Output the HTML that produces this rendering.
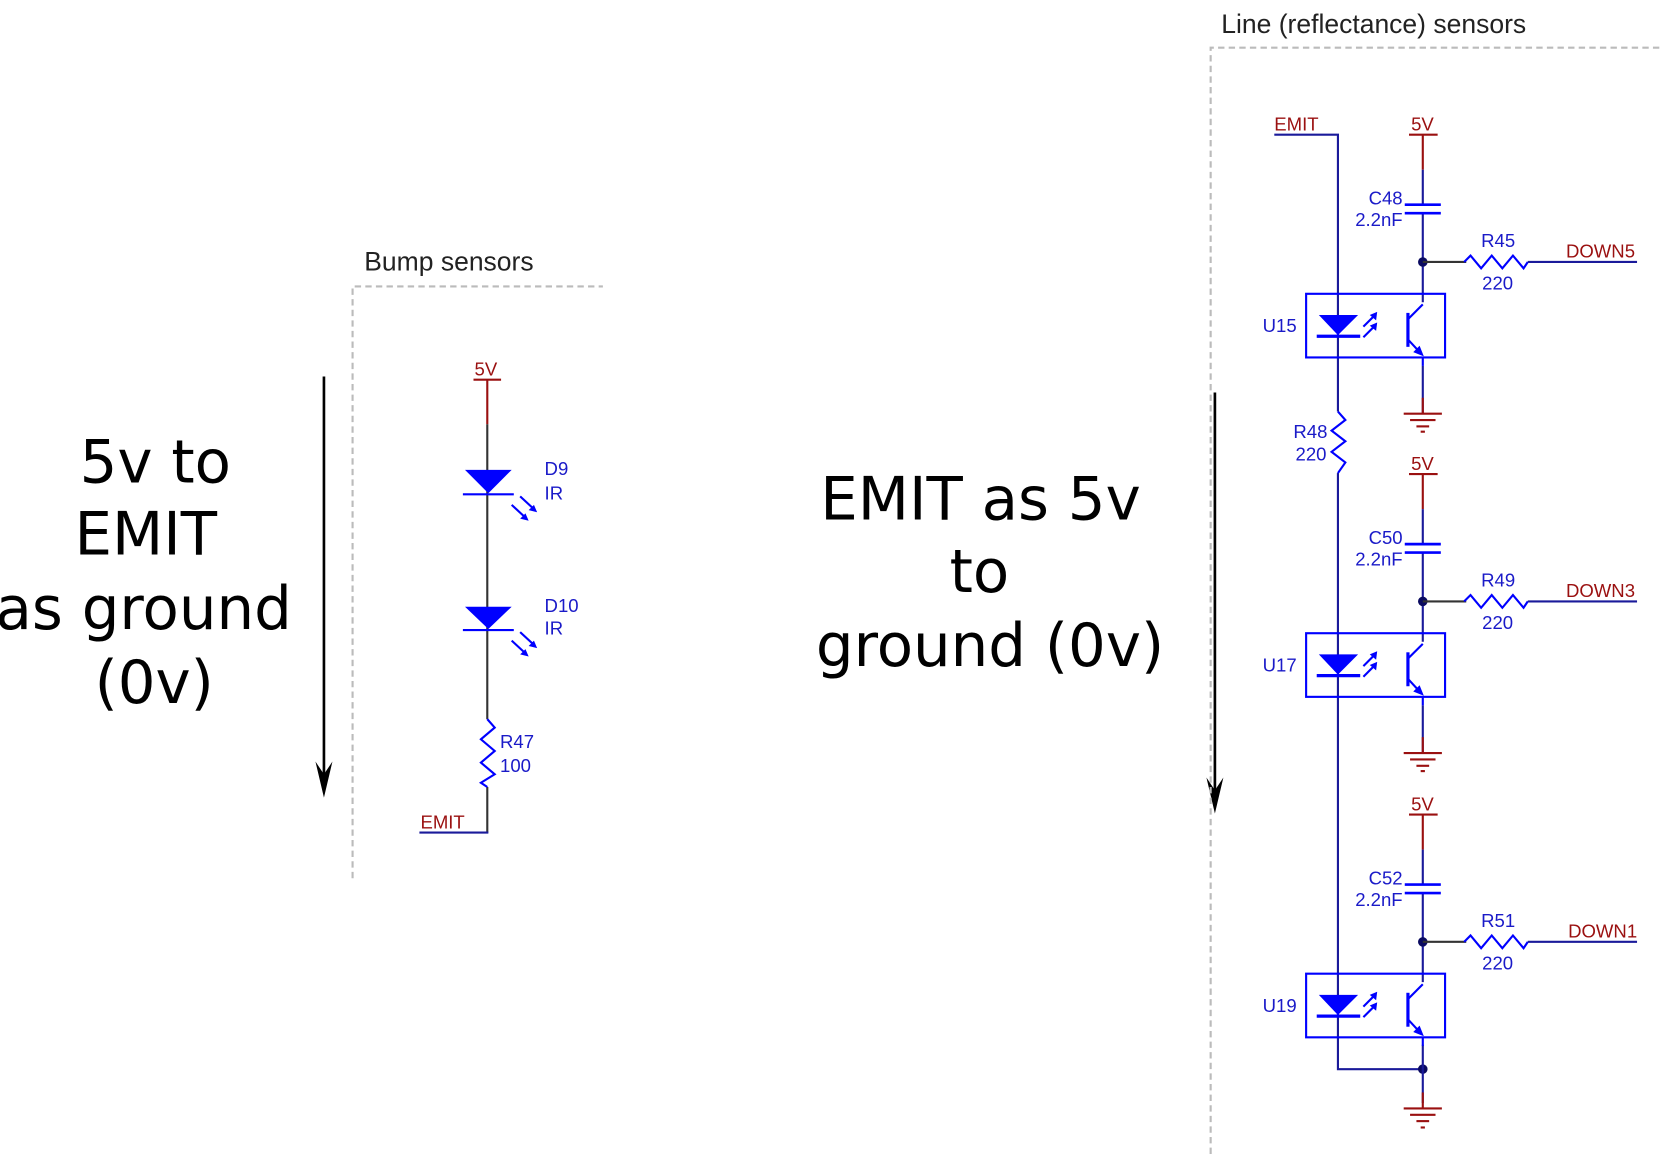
<!DOCTYPE html>
<html><head><meta charset="utf-8"><style>
html,body{margin:0;padding:0;background:#fff;width:1664px;height:1154px;overflow:hidden}
svg{display:block}
.sm{font-family:"Liberation Sans",sans-serif;font-size:17.5px;fill:#1a1ac8}
.red{font-family:"Liberation Sans",sans-serif;font-size:17.5px;fill:#9a1010}
.big{font-family:"DejaVu Sans",sans-serif;font-size:56px;fill:#000}
.ttl{font-family:"Liberation Sans",sans-serif;font-size:25px;fill:#222}
</style></head><body>
<svg width="1664" height="1154" viewBox="0 0 1568 1088" xmlns="http://www.w3.org/2000/svg">
<rect width="1568" height="1088" fill="#fff"/>
<g class="big" text-anchor="middle">
<text x="146" y="455">5v to</text>
<text x="137" y="523">EMIT</text>
<text x="135" y="593">as ground</text>
<text x="145" y="663">(0v)</text>
<text x="924" y="490">EMIT as 5v</text>
<text x="923" y="558">to</text>
<text x="933" y="628">ground (0v)</text>
</g>
<g stroke="#000" stroke-width="2.5">
<line x1="305" y1="355" x2="305" y2="735"/>
<line x1="1145" y1="370" x2="1145" y2="750"/>
</g>
<polygon points="297,718 305,752 313,718 305,730" fill="#000"/>
<polygon points="1137,733 1145,767 1153,733 1145,745" fill="#000"/>
<g stroke="#bbb" stroke-width="2" stroke-dasharray="6,4" fill="none">
<polyline points="332,828 332,270 568,270"/>
<polyline points="1141,1088 1141,45 1568,45"/>
</g>
<text class="ttl" x="343" y="255">Bump sensors</text>
<text class="ttl" x="1151" y="31">Line (reflectance) sensors</text>

<text class="red" x="447" y="354">5V</text>
<line x1="446" y1="358" x2="472" y2="358" stroke="#9a1010" stroke-width="2"/>
<line x1="459" y1="358" x2="459" y2="400" stroke="#9a1010" stroke-width="2"/>
<line x1="459" y1="400" x2="459" y2="678" stroke="#333" stroke-width="2"/>
<line x1="459" y1="742" x2="459" y2="785" stroke="#333" stroke-width="2"/>
<line x1="395" y1="785" x2="460" y2="785" stroke="#1a1a9a" stroke-width="2"/>
<text class="red" x="396" y="781">EMIT</text>
<g fill="#0000ff" stroke="#0000ff">
<polygon points="438,443 482,443 460,465" stroke="none"/>
<line x1="436" y1="466" x2="484" y2="466" stroke-width="2"/>
<polygon points="438,572 482,572 460,593" stroke="none"/>
<line x1="436" y1="594" x2="484" y2="594" stroke-width="2"/>
</g>
<g stroke="#0000ff" stroke-width="2">
<line x1="490" y1="468" x2="503" y2="480"/><line x1="482" y1="476" x2="495" y2="488"/>
<line x1="490" y1="596" x2="503" y2="608"/><line x1="482" y1="604" x2="495" y2="616"/>
</g>
<g fill="#0000ff">
<polygon points="506,483 498,481 503,476"/><polygon points="498,491 490,489 495,484"/>
<polygon points="506,611 498,609 503,604"/><polygon points="498,619 490,617 495,612"/>
</g>
<polyline points="459,678 466,686 453,697 466,708 453,719 466,730 453,738 459,742" fill="none" stroke="#0000ff" stroke-width="2"/>
<text class="sm" x="513" y="448">D9</text><text class="sm" x="513" y="471">IR</text>
<text class="sm" x="513" y="577">D10</text><text class="sm" x="513" y="598">IR</text>
<text class="sm" x="471" y="705">R47</text><text class="sm" x="471" y="728">100</text>

<text class="red" x="1201" y="123">EMIT</text>
<polyline points="1201,127 1261,127 1261,1008 1341,1008" fill="none" stroke="#1a1a9a" stroke-width="2"/>
<circle cx="1341" cy="1008" r="4.5" fill="#0a0a60"/>
<line x1="1341" y1="1008" x2="1341" y2="1040" stroke="#1a1a9a" stroke-width="2"/>
<g stroke="#9a1010" stroke-width="2">
<line x1="1341" y1="1030" x2="1341" y2="1045"/>
<line x1="1323" y1="1045" x2="1359" y2="1045"/><line x1="1329" y1="1051" x2="1353" y2="1051"/><line x1="1335" y1="1057" x2="1347" y2="1057"/><line x1="1339" y1="1063" x2="1343" y2="1063"/>
</g>
<rect x="1255" y="388" width="12" height="58" fill="#fff"/>
<polyline points="1261,388 1268,396 1255,406 1268,416 1255,426 1268,436 1261,446" fill="none" stroke="#0000ff" stroke-width="2"/>
<text class="sm" x="1219" y="413">R48</text><text class="sm" x="1221" y="434">220</text>

<g>
<text class="red" x="1330" y="123">5V</text>
<line x1="1328" y1="127" x2="1355" y2="127" stroke="#9a1010" stroke-width="2"/>
<line x1="1341" y1="127" x2="1341" y2="160" stroke="#9a1010" stroke-width="2"/>
<line x1="1341" y1="160" x2="1341" y2="193" stroke="#1a1a9a" stroke-width="2"/>
<line x1="1341" y1="201" x2="1341" y2="285" stroke="#1a1a9a" stroke-width="2"/>
<line x1="1324" y1="193" x2="1358" y2="193" stroke="#0000ff" stroke-width="2.5"/>
<line x1="1324" y1="201" x2="1358" y2="201" stroke="#0000ff" stroke-width="2.5"/>
<circle cx="1341" cy="247" r="4.5" fill="#0a0a60"/>
<line x1="1341" y1="247" x2="1382" y2="247" stroke="#333" stroke-width="2"/>
<polyline points="1380,247 1386,241 1396,253 1406,241 1416,253 1426,241 1436,253 1440,247" fill="none" stroke="#0000ff" stroke-width="2"/>
<line x1="1440" y1="247" x2="1543" y2="247" stroke="#1a1a9a" stroke-width="2"/>
<rect x="1231" y="277" width="131" height="60" fill="none" stroke="#0000ff" stroke-width="2"/>
<polygon points="1243,297 1280,297 1261,316" fill="#0000ff"/>
<line x1="1241" y1="317" x2="1282" y2="317" stroke="#0000ff" stroke-width="3"/>
<g stroke="#0000ff" stroke-width="2">
<line x1="1285" y1="308" x2="1296" y2="297"/><line x1="1285" y1="318" x2="1296" y2="307"/>
<line x1="1327" y1="295" x2="1327" y2="327" stroke-width="3"/>
<line x1="1327" y1="301" x2="1341" y2="287"/><line x1="1327" y1="320" x2="1339" y2="333"/>
<line x1="1341" y1="337" x2="1341" y2="345"/>
</g>
<polygon points="1298,294 1297,302 1291,297" fill="#0000ff"/><polygon points="1298,304 1297,312 1291,307" fill="#0000ff"/>
<polygon points="1342,336 1332,332 1338,326" fill="#0000ff"/>
<text class="sm" x="1322" y="193" text-anchor="end">C48</text><text class="sm" x="1322" y="213" text-anchor="end">2.2nF</text>
<text class="sm" x="1396" y="233">R45</text><text class="sm" x="1397" y="273">220</text>
<text class="red" x="1476" y="243">DOWN5</text>
<text class="sm" x="1190" y="313">U15</text>
</g>
<g stroke="#9a1010" stroke-width="2">
<line x1="1341" y1="345" x2="1341" y2="390" stroke="#1a1a9a"/>
<line x1="1341" y1="375" x2="1341" y2="390"/>
<line x1="1323" y1="390" x2="1359" y2="390"/><line x1="1329" y1="396" x2="1353" y2="396"/><line x1="1335" y1="402" x2="1347" y2="402"/><line x1="1339" y1="407" x2="1343" y2="407"/>
<line x1="1341" y1="665" x2="1341" y2="710" stroke="#1a1a9a"/>
<line x1="1341" y1="695" x2="1341" y2="710"/>
<line x1="1323" y1="710" x2="1359" y2="710"/><line x1="1329" y1="716" x2="1353" y2="716"/><line x1="1335" y1="722" x2="1347" y2="722"/><line x1="1339" y1="727" x2="1343" y2="727"/>
<line x1="1341" y1="985" x2="1341" y2="1008" stroke="#1a1a9a"/>
</g>
<g transform="translate(0,320)">
<text class="red" x="1330" y="123">5V</text>
<line x1="1328" y1="127" x2="1355" y2="127" stroke="#9a1010" stroke-width="2"/>
<line x1="1341" y1="127" x2="1341" y2="160" stroke="#9a1010" stroke-width="2"/>
<line x1="1341" y1="160" x2="1341" y2="193" stroke="#1a1a9a" stroke-width="2"/>
<line x1="1341" y1="201" x2="1341" y2="285" stroke="#1a1a9a" stroke-width="2"/>
<line x1="1324" y1="193" x2="1358" y2="193" stroke="#0000ff" stroke-width="2.5"/>
<line x1="1324" y1="201" x2="1358" y2="201" stroke="#0000ff" stroke-width="2.5"/>
<circle cx="1341" cy="247" r="4.5" fill="#0a0a60"/>
<line x1="1341" y1="247" x2="1382" y2="247" stroke="#333" stroke-width="2"/>
<polyline points="1380,247 1386,241 1396,253 1406,241 1416,253 1426,241 1436,253 1440,247" fill="none" stroke="#0000ff" stroke-width="2"/>
<line x1="1440" y1="247" x2="1543" y2="247" stroke="#1a1a9a" stroke-width="2"/>
<rect x="1231" y="277" width="131" height="60" fill="none" stroke="#0000ff" stroke-width="2"/>
<polygon points="1243,297 1280,297 1261,316" fill="#0000ff"/>
<line x1="1241" y1="317" x2="1282" y2="317" stroke="#0000ff" stroke-width="3"/>
<g stroke="#0000ff" stroke-width="2">
<line x1="1285" y1="308" x2="1296" y2="297"/><line x1="1285" y1="318" x2="1296" y2="307"/>
<line x1="1327" y1="295" x2="1327" y2="327" stroke-width="3"/>
<line x1="1327" y1="301" x2="1341" y2="287"/><line x1="1327" y1="320" x2="1339" y2="333"/>
<line x1="1341" y1="337" x2="1341" y2="345"/>
</g>
<polygon points="1298,294 1297,302 1291,297" fill="#0000ff"/><polygon points="1298,304 1297,312 1291,307" fill="#0000ff"/>
<polygon points="1342,336 1332,332 1338,326" fill="#0000ff"/>
<text class="sm" x="1322" y="193" text-anchor="end">C50</text><text class="sm" x="1322" y="213" text-anchor="end">2.2nF</text>
<text class="sm" x="1396" y="233">R49</text><text class="sm" x="1397" y="273">220</text>
<text class="red" x="1476" y="243">DOWN3</text>
<text class="sm" x="1190" y="313">U17</text>
</g>
<g transform="translate(0,641)">
<text class="red" x="1330" y="123">5V</text>
<line x1="1328" y1="127" x2="1355" y2="127" stroke="#9a1010" stroke-width="2"/>
<line x1="1341" y1="127" x2="1341" y2="160" stroke="#9a1010" stroke-width="2"/>
<line x1="1341" y1="160" x2="1341" y2="193" stroke="#1a1a9a" stroke-width="2"/>
<line x1="1341" y1="201" x2="1341" y2="285" stroke="#1a1a9a" stroke-width="2"/>
<line x1="1324" y1="193" x2="1358" y2="193" stroke="#0000ff" stroke-width="2.5"/>
<line x1="1324" y1="201" x2="1358" y2="201" stroke="#0000ff" stroke-width="2.5"/>
<circle cx="1341" cy="247" r="4.5" fill="#0a0a60"/>
<line x1="1341" y1="247" x2="1382" y2="247" stroke="#333" stroke-width="2"/>
<polyline points="1380,247 1386,241 1396,253 1406,241 1416,253 1426,241 1436,253 1440,247" fill="none" stroke="#0000ff" stroke-width="2"/>
<line x1="1440" y1="247" x2="1543" y2="247" stroke="#1a1a9a" stroke-width="2"/>
<rect x="1231" y="277" width="131" height="60" fill="none" stroke="#0000ff" stroke-width="2"/>
<polygon points="1243,297 1280,297 1261,316" fill="#0000ff"/>
<line x1="1241" y1="317" x2="1282" y2="317" stroke="#0000ff" stroke-width="3"/>
<g stroke="#0000ff" stroke-width="2">
<line x1="1285" y1="308" x2="1296" y2="297"/><line x1="1285" y1="318" x2="1296" y2="307"/>
<line x1="1327" y1="295" x2="1327" y2="327" stroke-width="3"/>
<line x1="1327" y1="301" x2="1341" y2="287"/><line x1="1327" y1="320" x2="1339" y2="333"/>
<line x1="1341" y1="337" x2="1341" y2="345"/>
</g>
<polygon points="1298,294 1297,302 1291,297" fill="#0000ff"/><polygon points="1298,304 1297,312 1291,307" fill="#0000ff"/>
<polygon points="1342,336 1332,332 1338,326" fill="#0000ff"/>
<text class="sm" x="1322" y="193" text-anchor="end">C52</text><text class="sm" x="1322" y="213" text-anchor="end">2.2nF</text>
<text class="sm" x="1396" y="233">R51</text><text class="sm" x="1397" y="273">220</text>
<text class="red" x="1478" y="243">DOWN1</text>
<text class="sm" x="1190" y="313">U19</text>
</g>
</svg>
</body></html>
